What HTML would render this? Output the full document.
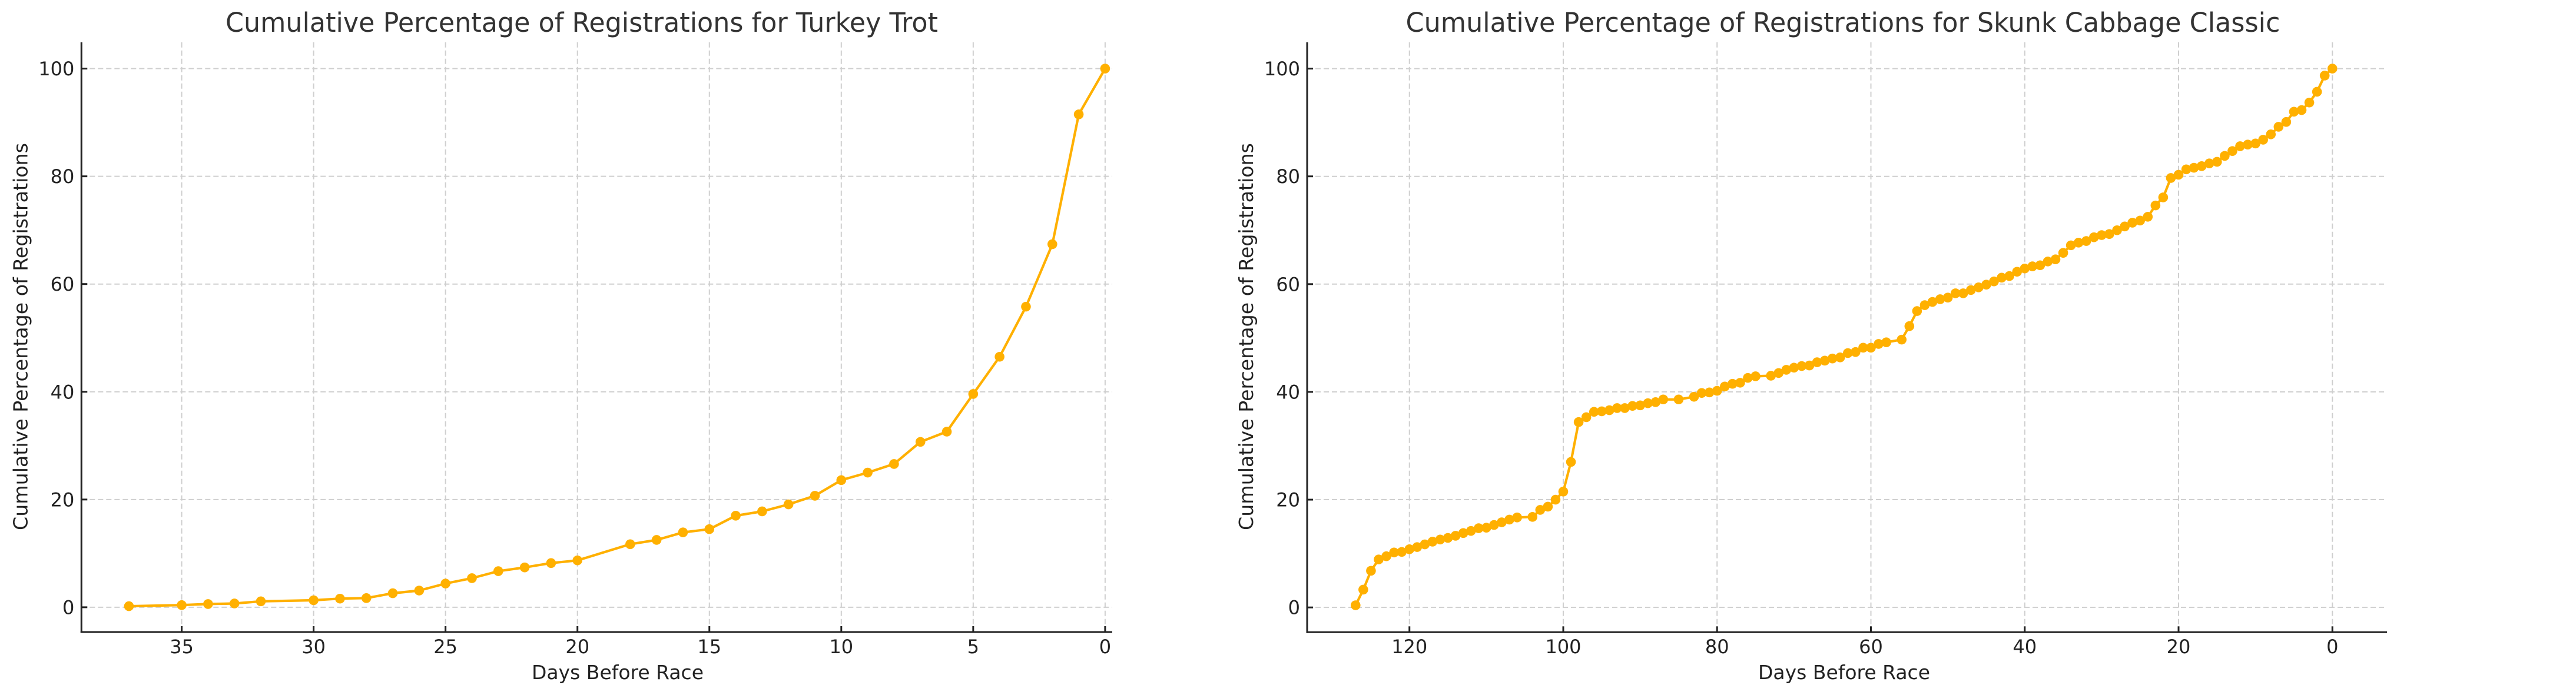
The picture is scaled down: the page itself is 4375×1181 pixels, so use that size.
<!DOCTYPE html>
<html><head><meta charset="utf-8"><style>
html,body{margin:0;padding:0;background:#fff;}
svg{display:block;font-family:"DejaVu Sans","Liberation Sans",sans-serif;}
</style></head><body>
<svg id="fig" width="4375" height="1181" viewBox="0 0 4375 1181" xmlns="http://www.w3.org/2000/svg">
<rect width="4375" height="1181" fill="#fff"/>
<g id="left"></g>
<g id="right"></g>
</svg>
<script>
const ttDays = [37,35,34,33,32,30,29,28,27,26,25,24,23,22,21,20,18,17,16,15,14,13,12,11,10,9,8,7,6,5,4,3,2,1,0];
const ttPct = [0.2,0.4,0.6,0.7,1.1,1.3,1.6,1.7,2.6,3.1,4.4,5.4,6.7,7.4,8.2,8.7,11.7,12.5,13.9,14.5,17.0,17.8,19.1,20.7,23.6,25.0,26.6,30.7,32.6,39.6,46.5,55.8,67.4,91.5,100];
const ttXTicks = [35,30,25,20,15,10,5,0];

const scDays = [127,126,125,124,123,122,121,120,119,118,117,116,115,114,113,112,111,110,109,108,107,106,104,103,102,101,100,99,98,97,96,95,94,93,92,91,90,89,88,87,85,83,82,81,80,79,78,77,76,75,73,72,71,70,69,68,67,66,65,64,63,62,61,60,59,58,56,55,54,53,52,51,50,49,48,47,46,45,44,43,42,41,40,39,38,37,36,35,34,33,32,31,30,29,28,27,26,25,24,23,22,21,20,19,18,17,16,15,14,13,12,11,10,9,8,7,6,5,4,3,2,1,0];
const scPct = [0.4,3.3,6.8,8.9,9.5,10.2,10.3,10.8,11.2,11.7,12.2,12.6,12.9,13.3,13.8,14.2,14.7,14.8,15.3,15.8,16.3,16.7,16.8,18.1,18.7,20.0,21.5,27.0,34.4,35.3,36.3,36.4,36.6,37.0,37.0,37.4,37.5,37.9,38.1,38.6,38.6,39.1,39.8,39.9,40.2,41.0,41.5,41.7,42.6,42.9,43.0,43.5,44.1,44.5,44.8,44.9,45.5,45.8,46.2,46.4,47.2,47.4,48.2,48.2,48.9,49.2,49.7,52.2,55.0,56.1,56.7,57.2,57.5,58.3,58.3,58.9,59.4,59.9,60.5,61.2,61.5,62.3,62.9,63.3,63.5,64.2,64.6,65.8,67.2,67.7,68.0,68.7,69.1,69.3,70.0,70.7,71.4,71.8,72.5,74.6,76.1,79.7,80.3,81.3,81.6,81.9,82.4,82.7,83.8,84.7,85.6,85.9,86.1,86.8,87.8,89.2,90.1,92.0,92.3,93.7,95.7,98.7,100];
const scXTicks = [120,100,80,60,40,20,0];
const yTicks = [0,20,40,60,80,100];

const NS = "http://www.w3.org/2000/svg";
function mk(parent, tag, attrs, text){
  const e = document.createElementNS(NS, tag);
  for (const k in attrs) e.setAttribute(k, attrs[k]);
  if (text !== undefined) e.textContent = text;
  parent.appendChild(e);
  return e;
}

function drawChart(g, cfg){
  const xs = d => cfg.left + (cfg.xMax - d) / (cfg.xMax - cfg.xMin) * (cfg.right - cfg.left);
  const ys = v => cfg.bottom - (v - cfg.yMin) / (cfg.yMax - cfg.yMin) * (cfg.bottom - cfg.top);
  // grid
  cfg.xTicks.forEach(t => {
    const l = mk(g, 'line', {x1: xs(t), x2: xs(t), y1: cfg.top, y2: cfg.bottom, stroke: '#cfcfcf', 'stroke-width': 2, 'stroke-dasharray': '9 5'});
    
    
  });
  yTicks.forEach(t => {
    const l = mk(g, 'line', {x1: cfg.left, x2: cfg.right, y1: ys(t), y2: ys(t), stroke: '#cfcfcf', 'stroke-width': 2, 'stroke-dasharray': '9 5'});
    
    
  });
  // series line
  const pts = cfg.days.map((d, i) => xs(d).toFixed(1) + ',' + ys(cfg.vals[i]).toFixed(1)).join(' ');
  const pl = mk(g, 'polyline', {points: pts, fill: 'none', stroke: '#ffb000', 'stroke-width': 4.2, 'stroke-linejoin': 'round'});
  
  
  cfg.days.forEach((d, i) => {
    const c = mk(g, 'circle', {cx: xs(d), cy: ys(cfg.vals[i]), r: 8.3, fill: '#ffb000'});
    
    
  });
  // spines
  const sp1 = mk(g, 'line', {x1: cfg.left, x2: cfg.left, y1: cfg.top, y2: cfg.bottom + 1.5, stroke: '#222', 'stroke-width': 3});
  
  
  const sp2 = mk(g, 'line', {x1: cfg.left - 1.5, x2: cfg.right, y1: cfg.bottom, y2: cfg.bottom, stroke: '#222', 'stroke-width': 3});
  
  
  // ticks
  cfg.xTicks.forEach(t => {
    const tk = mk(g, 'line', {x1: xs(t), x2: xs(t), y1: cfg.bottom, y2: cfg.bottom - 10, stroke: '#222', 'stroke-width': 3});
    
    
    const tl = mk(g, 'text', {x: xs(t), y: 1110, 'text-anchor': 'middle', 'font-size': 32, fill: '#222'}, String(t));
    
    
  });
  yTicks.forEach(t => {
    const tk = mk(g, 'line', {x1: cfg.left, x2: cfg.left + 10, y1: ys(t), y2: ys(t), stroke: '#222', 'stroke-width': 3});
    
    
    const tl = mk(g, 'text', {x: cfg.left - 12, y: ys(t) + 11.5, 'text-anchor': 'end', 'font-size': 32, fill: '#222'}, String(t));
    
    
  });
  // labels
  const ti = mk(g, 'text', {x: cfg.titleX, y: 54, 'text-anchor': 'middle', 'font-size': 45, fill: '#333', textLength: cfg.titleW, lengthAdjust: 'spacingAndGlyphs'}, cfg.title);
  
  
  const xl = mk(g, 'text', {x: cfg.xlabelX, y: 1154, 'text-anchor': 'middle', 'font-size': 33, fill: '#222', textLength: 292, lengthAdjust: 'spacingAndGlyphs'}, 'Days Before Race');
  
  
  const yx = cfg.left - 92, yy = 572;
  const yl = mk(g, 'text', {x: yx, y: yy, 'text-anchor': 'middle', 'font-size': 33, fill: '#222', transform: 'rotate(-90 ' + yx + ' ' + yy + ')', textLength: 658, lengthAdjust: 'spacingAndGlyphs'}, 'Cumulative Percentage of Registrations');
  
  
}

drawChart(document.getElementById('left'), {
  left: 138.3, right: 1889, top: 71.7, bottom: 1074,
  xMax: 38.8, xMin: -0.27, yMin: -4.6, yMax: 104.9,
  days: ttDays, vals: ttPct, xTicks: ttXTicks,
  title: 'Cumulative Percentage of Registrations for Turkey Trot', titleX: 988, titleW: 1210, xlabelX: 1049
});
drawChart(document.getElementById('right'), {
  left: 2220, right: 4054, top: 71.7, bottom: 1074.3,
  xMax: 133.3, xMin: -7.1, yMin: -4.6, yMax: 104.9,
  days: scDays, vals: scPct, xTicks: scXTicks,
  title: 'Cumulative Percentage of Registrations for Skunk Cabbage Classic', titleX: 3130, titleW: 1485, xlabelX: 3132
});
</script>
</body></html>
